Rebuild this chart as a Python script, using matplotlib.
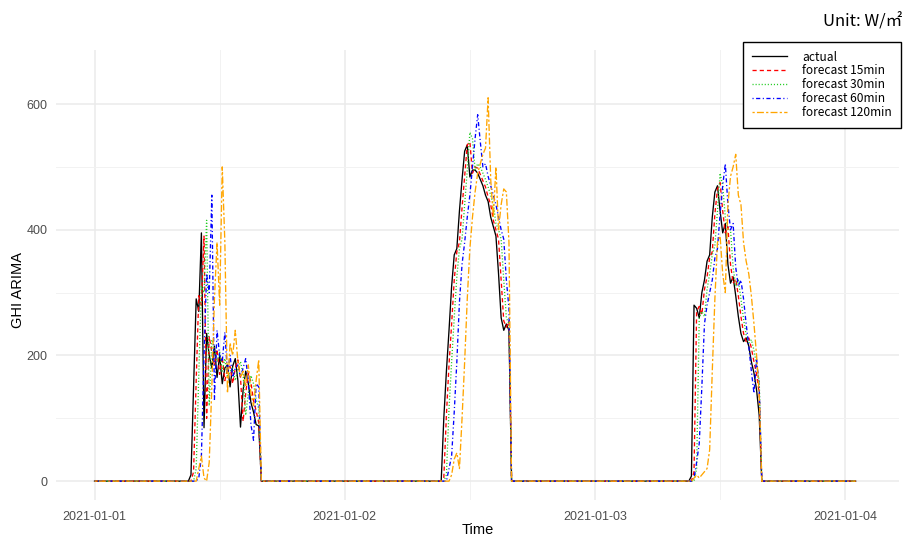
import numpy as np
import pandas as pd
import matplotlib
matplotlib.use("Agg")
import matplotlib.pyplot as plt
import matplotlib.dates as mdates

plt.rcParams['font.family'] = ['Liberation Sans', 'DejaVu Sans']
plt.rcParams['lines.scale_dashes'] = False

# 15-min GHI series, 2021-01-01 00:00 .. 2021-01-04 01:00 (zero at night)
start = "2021-01-01 00:00"
end = "2021-01-04 01:00"
day_start = "09:00"   # first value of each daytime block, 15-min steps to 16:00

# daytime values per day (09:00 .. 16:00)
actual = [
    [0, 10, 150, 290, 270, 395, 85, 235, 200, 180, 215, 165, 200, 155, 180,
     185, 150, 183, 195, 160, 86, 145, 175, 155, 125, 110, 90, 88, 0],
    [0, 0, 100, 175, 240, 310, 360, 370, 430, 480, 525, 535, 484, 495, 495,
     490, 480, 470, 455, 445, 420, 405, 390, 330, 260, 240, 250, 240, 0],
    [0, 8, 280, 275, 260, 300, 320, 350, 360, 420, 460, 470, 430, 395, 410,
     345, 315, 325, 295, 262, 235, 222, 228, 215, 190, 172, 145, 105, 0],
]
fc15 = [
    [0, 0, 15, 160, 295, 280, 390, 100, 230, 205, 185, 210, 170, 198, 160,
     178, 183, 155, 180, 193, 165, 95, 140, 172, 157, 128, 112, 93, 0],
    [0, 0, 5, 105, 185, 250, 320, 365, 380, 435, 485, 535, 540, 490, 500,
     498, 488, 478, 468, 452, 440, 415, 400, 385, 320, 255, 245, 255, 0],
    [0, 0, 15, 270, 278, 265, 305, 325, 355, 365, 425, 465, 475, 430, 395,
     405, 345, 315, 322, 295, 262, 235, 222, 228, 212, 190, 170, 140, 0],
]
fc30 = [
    [0, 0, 0, 20, 170, 310, 300, 415, 120, 225, 210, 190, 205, 175, 195,
     165, 175, 180, 160, 178, 190, 170, 105, 140, 168, 155, 130, 115, 0],
    [0, 0, 0, 10, 115, 190, 260, 325, 370, 385, 440, 495, 555, 545, 495,
     505, 500, 490, 480, 468, 455, 440, 410, 400, 385, 320, 260, 250, 0],
    [0, 0, 0, 20, 260, 270, 262, 305, 330, 360, 375, 430, 490, 470, 420,
     400, 400, 340, 310, 320, 290, 258, 232, 220, 225, 208, 185, 160, 0],
]
fc60 = [
    [0, 0, 0, 0, 5, 40, 200, 330, 300, 455, 130, 240, 200, 190, 237,
     170, 200, 165, 180, 185, 165, 180, 195, 160, 90, 65, 155, 150, 0],
    [0, 0, 0, 0, 20, 40, 110, 190, 285, 345, 380, 420, 455, 500, 545,
     583, 540, 500, 505, 485, 470, 455, 440, 420, 400, 385, 320, 275, 0],
    [0, 0, 5, 30, 60, 150, 250, 280, 300, 320, 355, 370, 425, 470, 505,
     440, 400, 410, 340, 310, 320, 290, 250, 215, 175, 140, 195, 150, 0],
]
fc120 = [
    [0, 0, 0, 0, 20, 40, 5, 0, 30, 150, 290, 380, 280, 500, 380,
     140, 220, 200, 240, 190, 165, 175, 150, 185, 140, 120, 160, 193, 0],
    [0, 0, 0, 0, 0, 10, 35, 45, 20, 100, 190, 290, 370, 420, 460,
     490, 505, 520, 530, 610, 480, 420, 500, 400, 440, 465, 460, 380, 0],
    [0, 0, 5, 10, 5, 10, 15, 20, 50, 175, 290, 380, 390, 330, 300,
     440, 485, 500, 520, 455, 440, 380, 350, 330, 295, 250, 200, 140, 0],
]

labels = ["actual", "forecast 15min", "forecast 30min", "forecast 60min", "forecast 120min"]
colors = ["black", "red", "#22cc22", "blue", "orange"]
dashes = [None, (3, 2.2), (0.8, 1.4), (0.8, 1.8, 3, 1.8), (1.6, 1.6, 5, 1.6)]

times = pd.date_range(start, end, freq="15min")


def full_series(blocks):
    vals = np.zeros(len(times))
    for d, block in enumerate(blocks):
        t0 = pd.Timestamp("2021-01-0%d %s" % (d + 1, day_start))
        i0 = times.get_loc(t0)
        vals[i0:i0 + len(block)] = block
    return vals


fig = plt.figure(figsize=(9.07, 5.37), dpi=100)
ax = fig.add_axes([56 / 907, 37 / 537, 843 / 907, 450 / 537])

for blocks, lab, col, ds in zip([actual, fc15, fc30, fc60, fc120], labels, colors, dashes):
    line, = ax.plot(times, full_series(blocks), color=col, lw=0.95, label=lab)
    if ds is not None:
        line.set_dashes(ds)

x0 = pd.Timestamp("2021-01-01")
ax.set_xlim(mdates.date2num(x0) - 0.154, mdates.date2num(x0) + 3.215)
ax.set_ylim(-30, 686)

ax.xaxis.set_major_locator(mdates.DayLocator())
ax.xaxis.set_major_formatter(mdates.DateFormatter("%Y-%m-%d"))
ax.xaxis.set_minor_locator(mdates.HourLocator(byhour=[12]))
ax.set_yticks([0, 200, 400, 600])
ax.set_yticks([100, 300, 500], minor=True)

ax.grid(True, which="major", color="#ebebeb", lw=1.1)
ax.grid(True, which="minor", color="#f2f2f2", lw=0.7)
ax.set_axisbelow(True)
for s in ax.spines.values():
    s.set_visible(False)
ax.tick_params(which="both", length=0, labelsize=9, labelcolor="#4d4d4d")
ax.tick_params(axis="x", pad=8)
ax.tick_params(axis="y", pad=6)

fig.text(478 / 907, 1 - 530 / 537, "Time", ha="center", va="center", fontsize=10.5)
fig.text(18 / 907, 1 - 290 / 537, "GHI ARIMA", ha="center", va="center",
         rotation=90, fontsize=10.5)

leg = fig.legend(loc="upper left", bbox_to_anchor=(743 / 907, 1 - 42 / 537),
                 frameon=True, fancybox=False, framealpha=1, edgecolor="black",
                 borderaxespad=0, handlelength=3.0, handletextpad=1.25,
                 labelspacing=0.07, borderpad=0.72,
                 prop={"family": ["Noto Sans CJK KR", "DejaVu Sans"], "size": 8.6})
leg.get_frame().set_linewidth(1.0)

fig.text(902 / 907, 1 - 22 / 537, "Unit: W/㎡", ha="right", va="center", fontsize=12,
         family=["Noto Sans CJK KR", "DejaVu Sans"])

plt.savefig("out.png", dpi=100)
